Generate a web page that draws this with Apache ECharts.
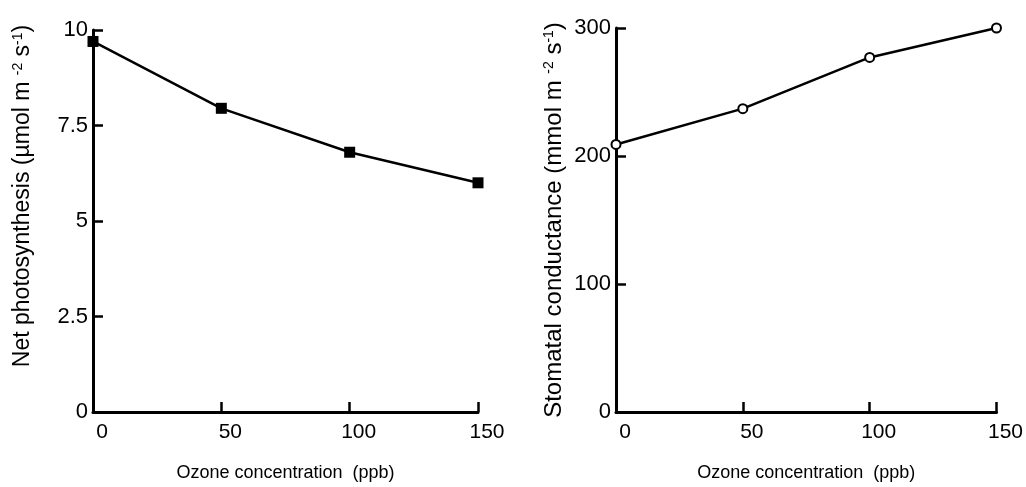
<!DOCTYPE html>
<html>
<head>
<meta charset="utf-8">
<script src="https://cdn.jsdelivr.net/npm/echarts@6/dist/echarts.min.js"></script>
<style>
html,body{margin:0;padding:0;background:#fff;}
#chart{width:1026px;height:487px;}
</style>
</head>
<body>
<div id="chart"></div>
<script>
// ozone levels (ppb)
var ozone = [0, 50, 100, 150];
// net photosynthesis, umol m-2 s-1
var photosynthesis = [9.7, 7.95, 6.8, 6.0];
// stomatal conductance, mmol m-2 s-1
var conductance = [209, 237, 277, 300];

var xTitle = 'Ozone concentration  (ppb)';
var font = '"Liberation Sans", Arial, sans-serif';

var chart = echarts.init(document.getElementById('chart'));

function pairs(xs, ys){
    return xs.map(function(x, i){ return [x, ys[i]]; });
}

var axisLine = {show: true, onZero: false, lineStyle: {color: '#000', width: 3}};
var axisTick = {show: true, inside: true, length: 10, lineStyle: {color: '#000', width: 2.5}};
var supRich = {
    sup: {fontSize: 14, fontFamily: font, color: '#000', verticalAlign: 'top', padding: [0, 0, 10, 0]}
};

function xAxis(idx){
    return {
        type: 'value', gridIndex: idx, min: 0, max: 150, interval: 50,
        axisLine: axisLine, axisTick: axisTick, splitLine: {show: false},
        axisLabel: {color: '#000', fontSize: 21, fontFamily: font, margin: 10, padding: [0, 0, 0, 18]},
        name: xTitle, nameLocation: 'middle', nameGap: 52,
        nameTextStyle: {color: '#000', fontSize: 18, fontFamily: font}
    };
}

var option = {
    backgroundColor: '#fff',
    animation: false,
    grid: [
        {left: 93, top: 30, width: 385, height: 382},
        {left: 616, top: 28, width: 385, height: 384}
    ],
    xAxis: [xAxis(0), xAxis(1)],
    yAxis: [
        {
            type: 'value', gridIndex: 0, min: 0, max: 10, interval: 2.5,
            axisLine: axisLine, axisTick: axisTick, splitLine: {show: false},
            axisLabel: {color: '#000', fontSize: 22, fontFamily: font, margin: 5, padding: [0, 0, 10, 0]},
            name: 'Net photosynthesis (\u00b5mol m {sup|-2} s{sup|-1})',
            nameLocation: 'middle', nameGap: 58,
            nameTextStyle: {color: '#000', fontSize: 23, fontFamily: font, padding: [0, 0, 0, 50], rich: supRich}
        },
        {
            type: 'value', gridIndex: 1, min: 0, max: 300, interval: 100,
            axisLine: axisLine, axisTick: axisTick, splitLine: {show: false},
            axisLabel: {color: '#000', fontSize: 22, fontFamily: font, margin: 5, padding: [0, 0, 10, 0]},
            name: 'Stomatal conductance (mmol m {sup|-2} s{sup|-1})',
            nameLocation: 'middle', nameGap: 50,
            nameTextStyle: {color: '#000', fontSize: 24, fontFamily: font, rich: supRich}
        }
    ],
    series: [
        {
            type: 'line', xAxisIndex: 0, yAxisIndex: 0,
            data: pairs(ozone, photosynthesis),
            symbol: 'rect', symbolSize: 11,
            lineStyle: {color: '#000', width: 2.5},
            itemStyle: {color: '#000'}
        },
        {
            type: 'line', xAxisIndex: 1, yAxisIndex: 1,
            data: pairs(ozone, conductance),
            symbol: 'circle', symbolSize: 9,
            lineStyle: {color: '#000', width: 2.5},
            itemStyle: {color: '#fff', borderColor: '#000', borderWidth: 2}
        }
    ]
};

chart.setOption(option);
</script>
</body>
</html>
